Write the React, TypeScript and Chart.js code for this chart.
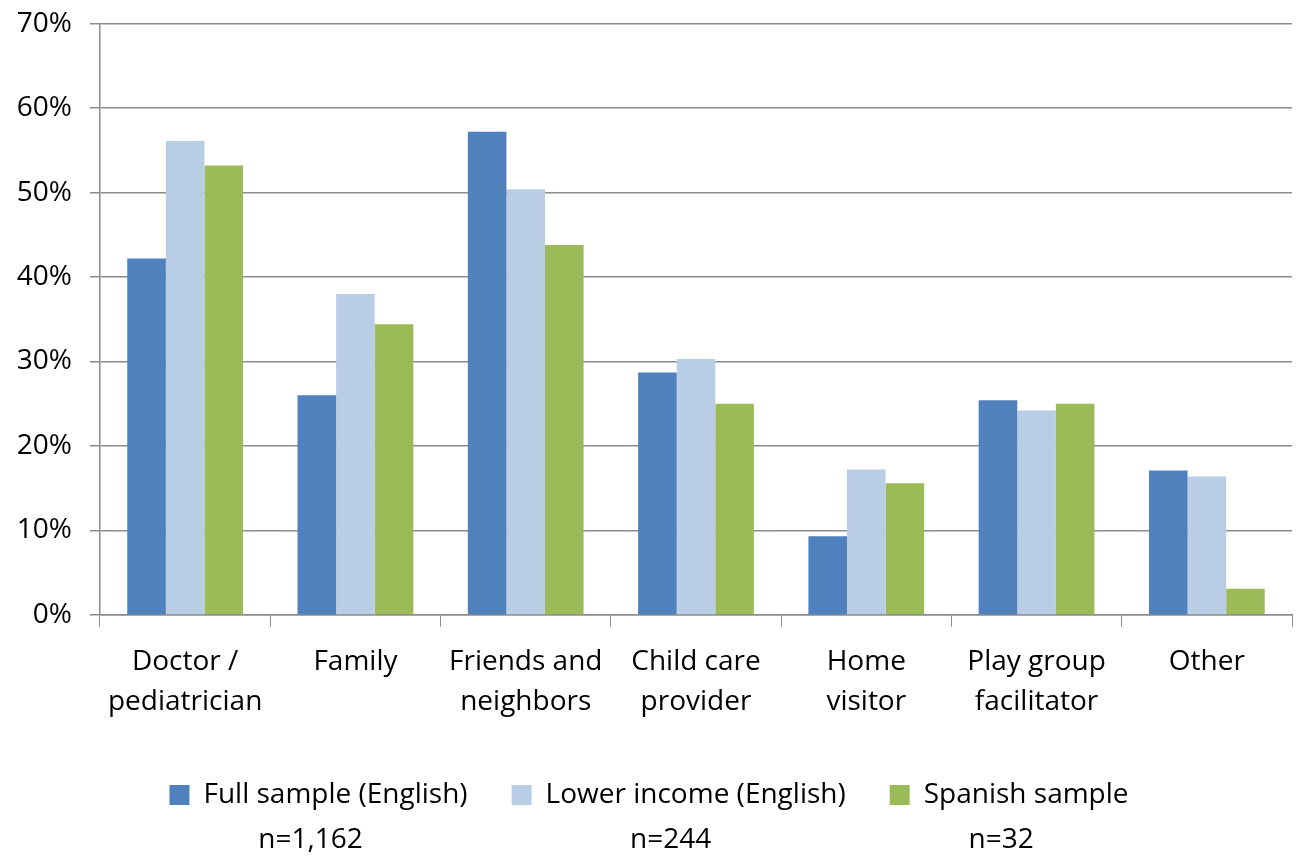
import React, { useEffect, useRef } from "react";
import { Chart, registerables } from "chart.js";

Chart.register(...registerables);

const categories: string[][] = [
  ["Doctor /", "pediatrician"],
  ["Family"],
  ["Friends and", "neighbors"],
  ["Child care", "provider"],
  ["Home", "visitor"],
  ["Play group", "facilitator"],
  ["Other"],
];

const seriesNames = ["Full sample (English)", "Lower income (English)", "Spanish sample"];
const sampleSizes = ["n=1,162", "n=244", "n=32"];
const fullSample = [42.2, 26.0, 57.2, 28.7, 9.3, 25.4, 17.1];
const lowerIncome = [56.1, 38.0, 50.4, 30.3, 17.2, 24.2, 16.4];
const spanishSample = [53.2, 34.4, 43.8, 25.0, 15.6, 25.0, 3.1];
const colors = ["#4F81BD", "#B9CDE5", "#9BBB59"];

const FONT = "'Open Sans', sans-serif";

const sampleSizePlugin = {
  id: "sampleSizes",
  afterDraw(chart: any) {
    const legend = chart.legend;
    if (!legend || !legend.legendHitBoxes) return;
    const ctx = chart.ctx;
    ctx.save();
    ctx.fillStyle = "#000";
    ctx.font = `28px ${FONT}`;
    ctx.textAlign = "center";
    ctx.textBaseline = "middle";
    legend.legendHitBoxes.forEach((box: any, i: number) => {
      const cx = box.left + box.width / 2 - 8;
      const cy = box.top + box.height / 2 + 45;
      ctx.fillText(sampleSizes[i], cx, cy);
    });
    ctx.restore();
  },
};

export default function App() {
  const ref = useRef<HTMLCanvasElement>(null);
  useEffect(() => {
    document.body.style.margin = "0";
    const data = [fullSample, lowerIncome, spanishSample];
    const chart = new Chart(ref.current!, {
      type: "bar",
      data: {
        labels: categories,
        datasets: seriesNames.map((name, i) => ({
          label: name,
          data: data[i],
          backgroundColor: colors[i],
          borderWidth: 0,
          barPercentage: 1.0,
          categoryPercentage: 0.68,
        })),
      },
      options: {
        animation: false,
        responsive: false,
        maintainAspectRatio: false,
        layout: { padding: { top: 0, right: 5, left: 6, bottom: 40 } },
        plugins: {
          title: { display: false },
          tooltip: { enabled: false },
          legend: {
            position: "bottom",
            labels: {
              font: { family: FONT, size: 28 },
              color: "#000",
              boxWidth: 20,
              boxHeight: 20,
              padding: 44,
            },
          },
        },
        scales: {
          x: {
            grid: {
              offset: true,
              drawOnChartArea: false,
              drawTicks: true,
              tickLength: 12,
              color: "#8c8c8c",
            },
            border: { color: "#8c8c8c", width: 1.5 },
            ticks: {
              font: { family: FONT, size: 28, lineHeight: 1.43 },
              color: "#000",
              padding: 15,
              maxRotation: 0,
              autoSkip: false,
            },
          },
          y: {
            min: 0,
            max: 70,
            afterFit: (scale: any) => {
              scale.width = 94;
            },
            grid: { color: "#8c8c8c", lineWidth: 1.5, tickLength: 10 },
            border: { color: "#8c8c8c", width: 1.5 },
            ticks: {
              stepSize: 10,
              font: { family: FONT, size: 28, lineHeight: 0.4 },
              color: "#000",
              padding: 18,
              callback: (v: any) => `${v}%`,
            },
          },
        },
      },
      plugins: [sampleSizePlugin],
    });
    return () => chart.destroy();
  }, []);
  return <canvas ref={ref} width={1297} height={859} style={{ display: "block" }} />;
}
